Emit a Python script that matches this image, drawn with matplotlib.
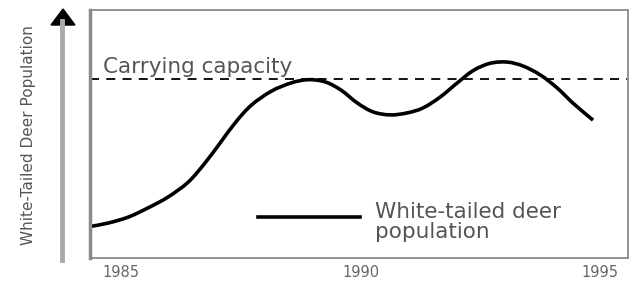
import matplotlib
matplotlib.use("Agg")
import numpy as np
import matplotlib.pyplot as plt
from matplotlib.path import Path
from matplotlib.patches import PathPatch

# Data
years = [1984.35, 1984.73, 1985.15, 1985.56, 1985.98, 1986.40, 1986.75, 1987.09,
         1987.38, 1987.71, 1988.13, 1988.55, 1988.90, 1989.26, 1989.59, 1989.93,
         1990.26, 1990.62, 1990.97, 1991.30, 1991.66, 1992.01, 1992.35, 1992.70,
         1993.06, 1993.39, 1993.75, 1994.10, 1994.44, 1994.85]
population = [12.7, 14.1, 16.5, 20.2, 24.6, 30.6, 38.3, 47.0,
              54.5, 61.5, 67.2, 70.6, 71.9, 71.0, 67.7, 62.5,
              58.9, 57.7, 58.5, 60.5, 64.9, 70.5, 75.6, 78.5,
              79.0, 77.4, 73.8, 68.6, 62.3, 55.6]
carrying_capacity = 72.2
tick_years = [1985, 1990, 1995]
tick_labels = ["1985", "1990", "1995"]

fig = plt.figure(figsize=(6.34, 2.83), dpi=100)
ax = fig.add_axes([90/634, 25/283, 538/634, 248/283])
ax.set_xlim(1984.35, 1995.58)
ax.set_ylim(0, 100)

# smooth curve through the points (Catmull-Rom drawn as cubic Bezier path)
pts = np.column_stack([years, population])
verts = [tuple(pts[0])]
codes = [Path.MOVETO]
n = len(pts)
for i in range(n - 1):
    p0 = pts[i - 1] if i > 0 else pts[i]
    p1 = pts[i]
    p2 = pts[i + 1]
    p3 = pts[i + 2] if i + 2 < n else pts[i + 1]
    c1 = p1 + (p2 - p0) / 6.0
    c2 = p2 - (p3 - p1) / 6.0
    verts += [tuple(c1), tuple(c2), tuple(p2)]
    codes += [Path.CURVE4] * 3
ax.add_patch(PathPatch(Path(verts, codes), fill=False, edgecolor="black",
                       lw=2.6, capstyle="butt", joinstyle="round"))

ax.axhline(carrying_capacity, color="black", lw=1.3, ls=(0, (5, 4)))

ax.set_xticks(tick_years)
ax.set_xticklabels(tick_labels, color="#666666", fontsize=10.5)
ax.tick_params(axis="x", length=0, pad=5)
ax.set_yticks([])

for side in ["top", "right", "bottom"]:
    ax.spines[side].set_color("#8a8a8a")
    ax.spines[side].set_linewidth(1.3)
ax.spines["left"].set_color("#8a8a8a")
ax.spines["left"].set_linewidth(2.5)

ax.text(1984.62, 74.6, "Carrying capacity", color="#555555", fontsize=15.5,
        ha="left", va="baseline")

# legend-like annotation
ax.plot([1987.86, 1989.99], [16.5, 16.5], color="black", lw=2.6)
ax.text(1990.30, 8.1, "White-tailed deer\npopulation", color="#555555",
        fontsize=15.5, ha="left", va="baseline", linespacing=1.0)

# y axis arrow
fig.add_artist(plt.Line2D([62/634, 62/634], [23/283, 262/283],
                          color="#aaaaaa", lw=3.5, transform=fig.transFigure))
fig.add_artist(plt.Polygon([[51/634, 258/283], [75/634, 258/283], [63/634, 274/283]],
                           closed=True, color="black", transform=fig.transFigure))

fig.text(28/634, 148/283, "White-Tailed Deer Population", rotation=90,
         color="#555555", fontsize=11, ha="center", va="center")

fig.savefig("out.png", dpi=100)
